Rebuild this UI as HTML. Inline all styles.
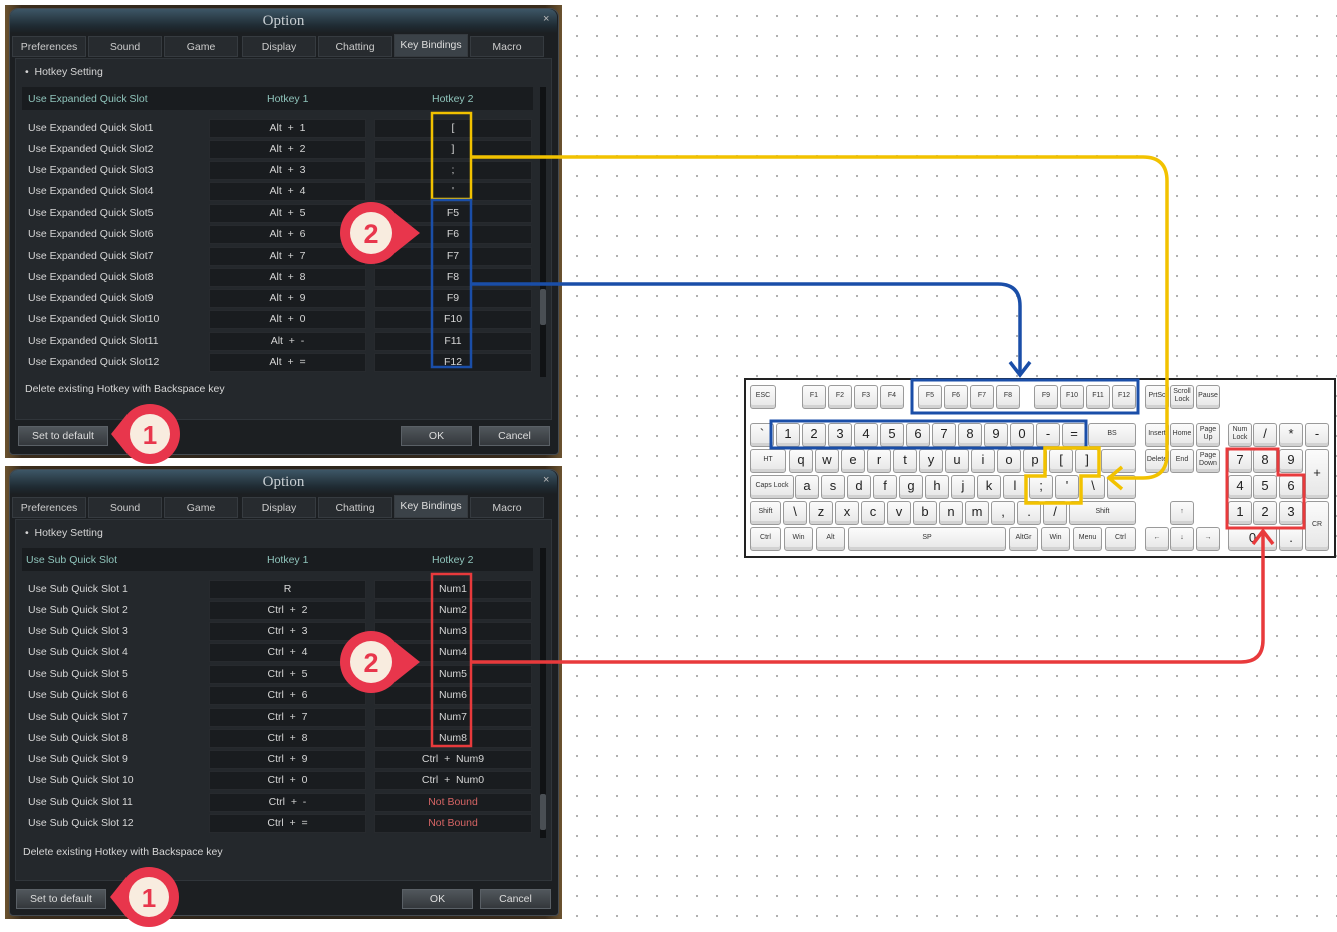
<!DOCTYPE html>
<html><head><meta charset="utf-8"><style>
*{box-sizing:border-box;margin:0;padding:0}
body{width:1337px;height:932px;position:relative;overflow:hidden;background:#fff;
background-image:radial-gradient(circle,#a8a8a8 0.9px,transparent 1.3px);background-size:20px 20px;background-position:7px 6px;
font-family:"Liberation Sans","DejaVu Sans",sans-serif}
.dlg{position:absolute;left:5px;width:557px;height:453px;background:linear-gradient(90deg,#6b5330,#3a2c1c 3%,#2a241c 50%,#3a2c1c 97%,#6b5330)}
.in{position:absolute;left:4px;top:3px;right:3px;bottom:3px;background:#1c1f22;border-radius:9px 9px 4px 4px;border:1px solid #444a50}
.a{position:absolute}
.title{left:5px;right:5px;top:4px;height:24px;background:linear-gradient(180deg,#3d5666,#1f2b33 70%,#1c1f22);border-radius:8px 8px 0 0;text-align:center;font-family:"Liberation Serif",serif;font-size:15px;color:#c8ced2;line-height:24px}
.x{color:#bbb;font-size:11px}
.tab{top:31px;height:21px;width:74px;background:#272b2f;border:1px solid #363b40;color:#ccc;font-size:10.5px;text-align:center;line-height:20px}
.tab.on{background:#3b4248;top:29px;height:23px;color:#ddd}
.cont{left:10px;top:53px;width:537px;height:362px;background:#24282c;border:1px solid #30353a}
.t{font-size:10.5px;color:#d6d6d6;white-space:nowrap}
.hdr{left:17px;top:82px;width:511px;height:23px;background:#191c1f}
.hc{font-size:10.5px;color:#8fc4bb;top:88px}
.c1,.c2{height:19px;background:#191c1f;border:1px solid #272a2e;font-size:10.5px;color:#d6d6d6;text-align:center;line-height:17px;margin-top:2px}
.c1{left:204px;width:157px}.c2{left:369px;width:158px}
.lb{left:23px;font-size:10.5px;color:#d6d6d6;line-height:19px;margin-top:2px}
.btn{top:421px;height:20px;background:linear-gradient(#51575c,#34383c);border:1px solid #5a6066;color:#ddd;font-size:10.5px;text-align:center;line-height:18px}
.nb{color:#d46464}
.k{position:absolute;height:24px;width:24px;background:linear-gradient(#fbfbfb,#e6e6e6);border:1px solid #9a9a9a;border-radius:3px;font-size:7px;color:#333;text-align:center;line-height:20px;box-shadow:inset 0 -3px 0 #d2d2d2}
.k.b{font-size:13px;line-height:20px;color:#222}
</style></head><body>

<!-- Dialog 1 -->
<div class="dlg" style="top:5px">
<div class="in"></div>
<div class="a title">Option</div>
<div class="a x" style="left:538px;top:8px">×</div>
<div class="a tab" style="left:7px">Preferences</div>
<div class="a tab" style="left:83px">Sound</div>
<div class="a tab" style="left:159px">Game</div>
<div class="a tab" style="left:237px">Display</div>
<div class="a tab" style="left:313px">Chatting</div>
<div class="a tab on" style="left:389px">Key Bindings</div>
<div class="a tab" style="left:465px">Macro</div>
<div class="a cont"></div>
<div class="a t" style="left:20px;top:61px">•&nbsp; Hotkey Setting</div>
<div class="a hdr"></div>
<div class="a hc" style="left:23px">Use Expanded Quick Slot</div>
<div class="a hc" style="left:262px">Hotkey 1</div>
<div class="a hc" style="left:427px">Hotkey 2</div>
<div class="a" style="left:535px;top:82px;width:6px;height:290px;background:#101214"></div>
<div class="a" style="left:535px;top:284px;width:6px;height:36px;background:#4a4f54;border-radius:2px"></div>
<div class="a lb" style="top:112px">Use Expanded Quick Slot1</div><div class="a c1" style="top:112px">Alt &nbsp;+ &nbsp;1</div><div class="a c2" style="top:112px">[</div>
<div class="a lb" style="top:133px">Use Expanded Quick Slot2</div><div class="a c1" style="top:133px">Alt &nbsp;+ &nbsp;2</div><div class="a c2" style="top:133px">]</div>
<div class="a lb" style="top:154px">Use Expanded Quick Slot3</div><div class="a c1" style="top:154px">Alt &nbsp;+ &nbsp;3</div><div class="a c2" style="top:154px">;</div>
<div class="a lb" style="top:175px">Use Expanded Quick Slot4</div><div class="a c1" style="top:175px">Alt &nbsp;+ &nbsp;4</div><div class="a c2" style="top:175px">'</div>
<div class="a lb" style="top:197px">Use Expanded Quick Slot5</div><div class="a c1" style="top:197px">Alt &nbsp;+ &nbsp;5</div><div class="a c2" style="top:197px">F5</div>
<div class="a lb" style="top:218px">Use Expanded Quick Slot6</div><div class="a c1" style="top:218px">Alt &nbsp;+ &nbsp;6</div><div class="a c2" style="top:218px">F6</div>
<div class="a lb" style="top:240px">Use Expanded Quick Slot7</div><div class="a c1" style="top:240px">Alt &nbsp;+ &nbsp;7</div><div class="a c2" style="top:240px">F7</div>
<div class="a lb" style="top:261px">Use Expanded Quick Slot8</div><div class="a c1" style="top:261px">Alt &nbsp;+ &nbsp;8</div><div class="a c2" style="top:261px">F8</div>
<div class="a lb" style="top:282px">Use Expanded Quick Slot9</div><div class="a c1" style="top:282px">Alt &nbsp;+ &nbsp;9</div><div class="a c2" style="top:282px">F9</div>
<div class="a lb" style="top:303px">Use Expanded Quick Slot10</div><div class="a c1" style="top:303px">Alt &nbsp;+ &nbsp;0</div><div class="a c2" style="top:303px">F10</div>
<div class="a lb" style="top:325px">Use Expanded Quick Slot11</div><div class="a c1" style="top:325px">Alt &nbsp;+ &nbsp;-</div><div class="a c2" style="top:325px">F11</div>
<div class="a lb" style="top:346px">Use Expanded Quick Slot12</div><div class="a c1" style="top:346px">Alt &nbsp;+ &nbsp;=</div><div class="a c2" style="top:346px">F12</div>
<div class="a t" style="left:20px;top:378px">Delete existing Hotkey with Backspace key</div>
<div class="a btn" style="left:13px;width:90px">Set to default</div>
<div class="a btn" style="left:396px;width:71px">OK</div>
<div class="a btn" style="left:474px;width:71px">Cancel</div>
</div>

<!-- Dialog 2 -->
<div class="dlg" style="top:466px">
<div class="in"></div>
<div class="a title">Option</div>
<div class="a x" style="left:538px;top:8px">×</div>
<div class="a tab" style="left:7px">Preferences</div>
<div class="a tab" style="left:83px">Sound</div>
<div class="a tab" style="left:159px">Game</div>
<div class="a tab" style="left:237px">Display</div>
<div class="a tab" style="left:313px">Chatting</div>
<div class="a tab on" style="left:389px">Key Bindings</div>
<div class="a tab" style="left:465px">Macro</div>
<div class="a cont"></div>
<div class="a t" style="left:20px;top:61px">•&nbsp; Hotkey Setting</div>
<div class="a hdr"></div>
<div class="a hc" style="left:21px">Use Sub Quick Slot</div>
<div class="a hc" style="left:262px">Hotkey 1</div>
<div class="a hc" style="left:427px">Hotkey 2</div>
<div class="a" style="left:535px;top:82px;width:6px;height:290px;background:#101214"></div>
<div class="a" style="left:535px;top:328px;width:6px;height:36px;background:#4a4f54;border-radius:2px"></div>
<div class="a lb" style="top:112px">Use Sub Quick Slot 1</div><div class="a c1" style="top:112px">R</div><div class="a c2" style="top:112px">Num1</div>
<div class="a lb" style="top:133px">Use Sub Quick Slot 2</div><div class="a c1" style="top:133px">Ctrl &nbsp;+ &nbsp;2</div><div class="a c2" style="top:133px">Num2</div>
<div class="a lb" style="top:154px">Use Sub Quick Slot 3</div><div class="a c1" style="top:154px">Ctrl &nbsp;+ &nbsp;3</div><div class="a c2" style="top:154px">Num3</div>
<div class="a lb" style="top:175px">Use Sub Quick Slot 4</div><div class="a c1" style="top:175px">Ctrl &nbsp;+ &nbsp;4</div><div class="a c2" style="top:175px">Num4</div>
<div class="a lb" style="top:197px">Use Sub Quick Slot 5</div><div class="a c1" style="top:197px">Ctrl &nbsp;+ &nbsp;5</div><div class="a c2" style="top:197px">Num5</div>
<div class="a lb" style="top:218px">Use Sub Quick Slot 6</div><div class="a c1" style="top:218px">Ctrl &nbsp;+ &nbsp;6</div><div class="a c2" style="top:218px">Num6</div>
<div class="a lb" style="top:240px">Use Sub Quick Slot 7</div><div class="a c1" style="top:240px">Ctrl &nbsp;+ &nbsp;7</div><div class="a c2" style="top:240px">Num7</div>
<div class="a lb" style="top:261px">Use Sub Quick Slot 8</div><div class="a c1" style="top:261px">Ctrl &nbsp;+ &nbsp;8</div><div class="a c2" style="top:261px">Num8</div>
<div class="a lb" style="top:282px">Use Sub Quick Slot 9</div><div class="a c1" style="top:282px">Ctrl &nbsp;+ &nbsp;9</div><div class="a c2" style="top:282px">Ctrl &nbsp;+ &nbsp;Num9</div>
<div class="a lb" style="top:303px">Use Sub Quick Slot 10</div><div class="a c1" style="top:303px">Ctrl &nbsp;+ &nbsp;0</div><div class="a c2" style="top:303px">Ctrl &nbsp;+ &nbsp;Num0</div>
<div class="a lb" style="top:325px">Use Sub Quick Slot 11</div><div class="a c1" style="top:325px">Ctrl &nbsp;+ &nbsp;-</div><div class="a c2 nb" style="top:325px">Not Bound</div>
<div class="a lb" style="top:346px">Use Sub Quick Slot 12</div><div class="a c1" style="top:346px">Ctrl &nbsp;+ &nbsp;=</div><div class="a c2 nb" style="top:346px">Not Bound</div>
<div class="a t" style="left:18px;top:380px">Delete existing Hotkey with Backspace key</div>
<div class="a btn" style="left:11px;top:423px;width:90px">Set to default</div>
<div class="a btn" style="left:397px;top:423px;width:71px">OK</div>
<div class="a btn" style="left:475px;top:423px;width:71px">Cancel</div>
</div>

<!-- Keyboard -->
<div class="a" style="left:744px;top:378px;width:592px;height:180px;background:#fff;border:2px solid #222"></div>
<div class="k" style="left:750px;top:385px;width:26px">ESC</div>
<div class="k" style="left:802px;top:385px">F1</div><div class="k" style="left:828px;top:385px">F2</div><div class="k" style="left:854px;top:385px">F3</div><div class="k" style="left:880px;top:385px">F4</div>
<div class="k" style="left:918px;top:385px">F5</div><div class="k" style="left:944px;top:385px">F6</div><div class="k" style="left:970px;top:385px">F7</div><div class="k" style="left:996px;top:385px">F8</div>
<div class="k" style="left:1034px;top:385px">F9</div><div class="k" style="left:1060px;top:385px">F10</div><div class="k" style="left:1086px;top:385px">F11</div><div class="k" style="left:1112px;top:385px">F12</div>
<div class="k" style="left:1145px;top:385px">PrtSc</div><div class="k" style="left:1170px;top:385px;line-height:8px;padding-top:2px">Scroll Lock</div><div class="k" style="left:1196px;top:385px">Pause</div>

<div class="k b" style="left:750px;top:423px">`</div>
<div class="k b" style="left:776px;top:423px">1</div><div class="k b" style="left:802px;top:423px">2</div><div class="k b" style="left:828px;top:423px">3</div><div class="k b" style="left:854px;top:423px">4</div><div class="k b" style="left:880px;top:423px">5</div><div class="k b" style="left:906px;top:423px">6</div><div class="k b" style="left:932px;top:423px">7</div><div class="k b" style="left:958px;top:423px">8</div><div class="k b" style="left:984px;top:423px">9</div><div class="k b" style="left:1010px;top:423px">0</div><div class="k b" style="left:1036px;top:423px">-</div><div class="k b" style="left:1062px;top:423px">=</div>
<div class="k" style="left:1088px;top:423px;width:48px">BS</div>
<div class="k" style="left:1145px;top:423px">Insert</div><div class="k" style="left:1170px;top:423px">Home</div><div class="k" style="left:1196px;top:423px;line-height:8px;padding-top:2px">Page Up</div>
<div class="k" style="left:1228px;top:423px;line-height:8px;padding-top:2px">Num Lock</div><div class="k b" style="left:1253px;top:423px">/</div><div class="k b" style="left:1279px;top:423px">*</div><div class="k b" style="left:1305px;top:423px">-</div>

<div class="k" style="left:750px;top:449px;width:36px">HT</div>
<div class="k b" style="left:789px;top:449px">q</div><div class="k b" style="left:815px;top:449px">w</div><div class="k b" style="left:841px;top:449px">e</div><div class="k b" style="left:867px;top:449px">r</div><div class="k b" style="left:893px;top:449px">t</div><div class="k b" style="left:919px;top:449px">y</div><div class="k b" style="left:945px;top:449px">u</div><div class="k b" style="left:971px;top:449px">i</div><div class="k b" style="left:997px;top:449px">o</div><div class="k b" style="left:1023px;top:449px">p</div><div class="k b" style="left:1049px;top:449px">[</div><div class="k b" style="left:1075px;top:449px">]</div>
<div class="k" style="left:1101px;top:449px;width:35px"></div>
<div class="k" style="left:1145px;top:449px">Delete</div><div class="k" style="left:1170px;top:449px">End</div><div class="k" style="left:1196px;top:449px;line-height:8px;padding-top:2px">Page Down</div>
<div class="k b" style="left:1228px;top:449px">7</div><div class="k b" style="left:1253px;top:449px">8</div><div class="k b" style="left:1279px;top:449px">9</div><div class="k b" style="left:1305px;top:449px;height:50px;line-height:46px">+</div>

<div class="k" style="left:750px;top:475px;width:44px">Caps Lock</div>
<div class="k b" style="left:795px;top:475px">a</div><div class="k b" style="left:821px;top:475px">s</div><div class="k b" style="left:847px;top:475px">d</div><div class="k b" style="left:873px;top:475px">f</div><div class="k b" style="left:899px;top:475px">g</div><div class="k b" style="left:925px;top:475px">h</div><div class="k b" style="left:951px;top:475px">j</div><div class="k b" style="left:977px;top:475px">k</div><div class="k b" style="left:1003px;top:475px">l</div><div class="k b" style="left:1029px;top:475px">;</div><div class="k b" style="left:1055px;top:475px">'</div><div class="k b" style="left:1081px;top:475px">\</div>
<div class="k" style="left:1107px;top:475px;width:29px"></div>
<div class="k b" style="left:1228px;top:475px">4</div><div class="k b" style="left:1253px;top:475px">5</div><div class="k b" style="left:1279px;top:475px">6</div>

<div class="k" style="left:750px;top:501px;width:31px">Shift</div>
<div class="k b" style="left:783px;top:501px">\</div><div class="k b" style="left:809px;top:501px">z</div><div class="k b" style="left:835px;top:501px">x</div><div class="k b" style="left:861px;top:501px">c</div><div class="k b" style="left:887px;top:501px">v</div><div class="k b" style="left:913px;top:501px">b</div><div class="k b" style="left:939px;top:501px">n</div><div class="k b" style="left:965px;top:501px">m</div><div class="k b" style="left:991px;top:501px">,</div><div class="k b" style="left:1017px;top:501px">.</div><div class="k b" style="left:1043px;top:501px">/</div>
<div class="k" style="left:1069px;top:501px;width:67px">Shift</div>
<div class="k" style="left:1170px;top:501px">↑</div>
<div class="k b" style="left:1228px;top:501px">1</div><div class="k b" style="left:1253px;top:501px">2</div><div class="k b" style="left:1279px;top:501px">3</div><div class="k" style="left:1305px;top:501px;height:50px;line-height:46px">CR</div>

<div class="k" style="left:750px;top:527px;width:31px">Ctrl</div><div class="k" style="left:784px;top:527px;width:29px">Win</div><div class="k" style="left:816px;top:527px;width:29px">Alt</div>
<div class="k" style="left:848px;top:527px;width:158px">SP</div>
<div class="k" style="left:1009px;top:527px;width:29px">AltGr</div><div class="k" style="left:1041px;top:527px;width:29px">Win</div><div class="k" style="left:1073px;top:527px;width:29px">Menu</div><div class="k" style="left:1105px;top:527px;width:31px">Ctrl</div>
<div class="k" style="left:1145px;top:527px">←</div><div class="k" style="left:1170px;top:527px">↓</div><div class="k" style="left:1196px;top:527px">→</div>
<div class="k b" style="left:1228px;top:527px;width:49px">0</div><div class="k b" style="left:1279px;top:527px">.</div>

<svg class="a" style="left:0;top:0" width="1337" height="932" viewBox="0 0 1337 932">
<g fill="none" stroke-width="2.5">
<rect x="432" y="113" width="39" height="86" stroke="#f2c200"/>
<rect x="432" y="200" width="39" height="167" stroke="#1a4ea8"/>
<rect x="432" y="574" width="39" height="172" stroke="#e83a3c"/>
<rect x="912" y="380" width="226" height="33" stroke="#1a4ea8" stroke-width="3"/>
<rect x="771" y="421" width="315" height="27" stroke="#1a4ea8" stroke-width="3"/>
<path d="M1045,448 H1099 V476 H1081 V503 H1026 V476 H1045 Z" stroke="#f2c200" stroke-width="3.5"/>
<path d="M1227,449 H1278 V475 H1304 V528 H1227 Z" stroke="#e83a3c" stroke-width="3"/>
<path d="M471,157 H1143 Q1167,157 1167,181 V454 Q1167,478 1143,478 H1110" stroke="#f2c200" stroke-width="3.5"/>
<path d="M1122,467 L1109,478 L1122,489" stroke="#f2c200" stroke-width="3.5"/>
<path d="M471,284 H998 Q1020,284 1020,306 V374" stroke="#1a4ea8" stroke-width="3.5"/>
<path d="M1010,362 L1020,375 L1030,362" stroke="#1a4ea8" stroke-width="3.5"/>
<path d="M471,662 H1241 Q1263,662 1263,640 V532" stroke="#e83a3c" stroke-width="3.5"/>
<path d="M1253,544 L1263,531 L1273,544" stroke="#e83a3c" stroke-width="3.5"/>
</g>
<g font-family="Liberation Sans, sans-serif" font-weight="bold" text-anchor="middle">
<circle cx="371" cy="233" r="31" fill="#e8364c"/><path d="M395,213 L420,233 L395,253 Z" fill="#e8364c"/><circle cx="371" cy="233" r="21" fill="#f8ecdf"/><text x="371" y="243" font-size="27" fill="#e8364c">2</text>
<circle cx="371" cy="662" r="31" fill="#e8364c"/><path d="M395,642 L420,662 L395,682 Z" fill="#e8364c"/><circle cx="371" cy="662" r="21" fill="#f8ecdf"/><text x="371" y="672" font-size="27" fill="#e8364c">2</text>
<circle cx="150" cy="434" r="30" fill="#e8364c"/><path d="M127,414 L111,434 L127,454 Z" fill="#e8364c"/><circle cx="150" cy="434" r="20" fill="#f8ecdf"/><text x="150" y="444" font-size="26" fill="#e8364c">1</text>
<circle cx="149" cy="897" r="30" fill="#e8364c"/><path d="M126,877 L110,897 L126,917 Z" fill="#e8364c"/><circle cx="149" cy="897" r="20" fill="#f8ecdf"/><text x="149" y="907" font-size="26" fill="#e8364c">1</text>
</g>
</svg>
</body></html>
